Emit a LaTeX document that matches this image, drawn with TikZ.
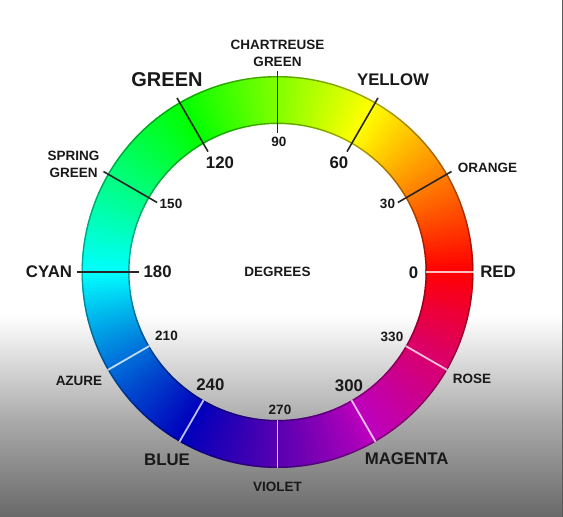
\documentclass[tikz,border=0pt]{standalone}
\usepackage{fontspec}
\setmainfont{Liberation Sans}
\begin{document}
\begin{tikzpicture}[x=1pt,y=1pt,
  sm/.style={font=\bfseries\fontsize{13.5}{17}\selectfont, inner sep=0pt, text=black!90},
  lg/.style={font=\bfseries\fontsize{16.8}{19}\selectfont, inner sep=0pt, text=black!90},
  hg/.style={font=\bfseries\fontsize{20}{22}\selectfont, inner sep=0pt, text=black!90},
  darktick/.style={line width=1.6pt, black!85},
  lighttick/.style={line width=1.8pt, white, opacity=0.75},
  ringedge/.style={black, opacity=0.35, line width=1.4pt}]
\useasboundingbox (0,0) rectangle (563,517);
% background
\fill[white] (0,0) rectangle (563,517);
\shade[top color=white, bottom color=black!9] (0,172) rectangle (563,202);
\shade[top color=black!9, bottom color=black!33] (0,97) rectangle (563,172.5);
\shade[top color=black!33, bottom color=black!59] (0,0) rectangle (563,97.5);
\draw[black!65, line width=1pt] (562.3,0) -- (562.3,517);
% ring
\begin{scope}[shift={(277.5,245)}]
\foreach \a in {0,...,359}{
  \pgfmathsetmacro{\bb}{1+0.3*min(0,sin(\a+0.5))}
  \definecolor{wc}{Hsb}{\a,1,\bb}
  \fill[wc] (\a-0.1:148) arc[start angle=\a-0.1, end angle=\a+1.1, radius=148]
     -- (\a+1.1:196) arc[start angle=\a+1.1, end angle=\a-0.1, radius=196] -- cycle;
}
\draw[ringedge] (0,0) circle (195.3);
\draw[ringedge] (0,0) circle (148.7);
\foreach \a in {30,60,90,120,150,180} \draw[darktick] (\a:139) -- (\a:201);
\foreach \a in {0,210,240,270,300,330} \draw[lighttick] (\a:148) -- (\a:196);
\end{scope}
% labels
\node[sm, align=center] (chart) at (277.5,463.5) {CHARTREUSE\\GREEN};
\node[hg] (green) at (167,437) {GREEN};
\node[lg] (yellow) at (393,437) {YELLOW};
\node[sm, align=center] (spring) at (73.6,352.6) {SPRING\\GREEN};
\node[lg] (n120) at (220,354) {120};
\node[sm] (n90) at (279,375) {90};
\node[lg] (n60) at (339,354) {60};
\node[sm] (orange) at (487.5,349) {ORANGE};
\node[sm] (n150) at (171,313) {150};
\node[sm] (n30) at (387.5,313) {30};
\node[lg] (cyan) at (49,245) {CYAN};
\node[lg] (n180) at (157.6,245) {180};
\node[sm] (deg) at (277.5,245) {DEGREES};
\node[lg] (n0) at (413.5,244) {0};
\node[lg] (red) at (498,245) {RED};
\node[sm] (n210) at (166.5,181) {210};
\node[sm] (n330) at (392,180) {330};
\node[sm] (azure) at (79,136.3) {AZURE};
\node[sm] (rose) at (472,138) {ROSE};
\node[lg] (n240) at (210.4,132) {240};
\node[lg] (n300) at (349,131) {300};
\node[sm] (n270) at (280,107) {270};
\node[lg] (blue) at (167,57) {BLUE};
\node[lg] (magenta) at (406.6,58) {MAGENTA};
\node[sm] (violet) at (277.5,30) {VIOLET};
\end{tikzpicture}
\end{document}
